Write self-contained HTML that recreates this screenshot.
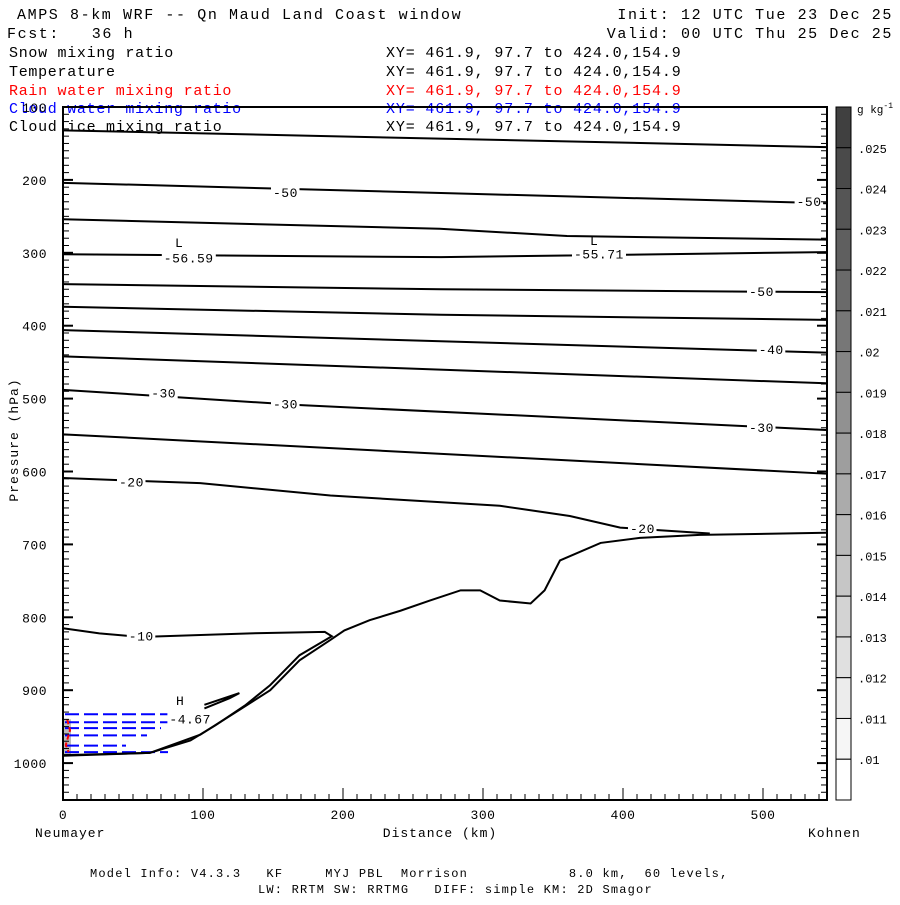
<!DOCTYPE html>
<html><head><meta charset="utf-8"><style>
body{margin:0;background:#fff;}
svg text{font-family:"Liberation Mono",monospace;white-space:pre;}
</style></head><body>
<svg id="c" width="900" height="900" viewBox="0 0 900 900" xml:space="preserve">
<rect width="900" height="900" fill="#fff"/>
<g font-size="15" letter-spacing="1.6" fill="#000">
<text x="17" y="19">AMPS 8-km WRF -- Qn Maud Land Coast window</text>
<text x="7" y="38">Fcst:   36 h</text>
<text x="893" y="19" text-anchor="end">Init: 12 UTC Tue 23 Dec 25</text>
<text x="893" y="38" text-anchor="end">Valid: 00 UTC Thu 25 Dec 25</text>
</g>
<g font-size="15" letter-spacing="0.7" fill="#000">
<text x="9" y="57">Snow mixing ratio</text>
<text x="9" y="76">Temperature</text>
<text x="9" y="95" fill="#f00">Rain water mixing ratio</text>
<text x="9" y="113" fill="#00f">Cloud water mixing ratio</text>
<text x="9" y="131">Cloud ice mixing ratio</text>
</g>
<g font-size="15" letter-spacing="0.85" fill="#000">
<text x="386" y="57">XY= 461.9, 97.7 to 424.0,154.9</text>
<text x="386" y="76">XY= 461.9, 97.7 to 424.0,154.9</text>
<text x="386" y="95" fill="#f00">XY= 461.9, 97.7 to 424.0,154.9</text>
<text x="386" y="113" fill="#00f">XY= 461.9, 97.7 to 424.0,154.9</text>
<text x="386" y="131">XY= 461.9, 97.7 to 424.0,154.9</text>
</g>
<g id="plot"></g>
<g font-size="13" letter-spacing="1" fill="#000">
<text x="440" y="837" text-anchor="middle">Distance (km)</text>
<text x="35" y="837">Neumayer</text>
<text x="808" y="837">Kohnen</text>
<text transform="translate(18,440) rotate(-90)" text-anchor="middle">Pressure (hPa)</text>
<text x="90" y="877" font-size="12" letter-spacing="1.2">Model Info: V4.3.3   KF     MYJ PBL  Morrison            8.0 km,  60 levels,</text>
<text x="258" y="893" font-size="12" letter-spacing="1.2">LW: RRTM SW: RRTMG   DIFF: simple KM: 2D Smagor</text>
</g>
</svg>
<script>
const xTicks=[0,100,200,300,400,500];
const yTicks=[100,200,300,400,500,600,700,800,900,1000];
const cbLabels=[".025",".024",".023",".022",".021",".02",".019",".018",".017",".016",".015",".014",".013",".012",".011",".01"];
const cbColors=["#404040","#4a4a4a","#555","#5f5f5f","#6a6a6a","#777","#848484","#919191","#9e9e9e","#ababab","#b9b9b9","#c6c6c6","#d3d3d3","#e0e0e0","#ececec","#f6f6f6","#fff"];
const tLinesKm=[
[0,545],
[0,270,545],
[0,269,360,545],
[0,270,545],
[0,270,545],
[0,270,545],
[0,545],
[0,545],
[0,170,545],
[0,545],
[0,98,191,312,362,398,462],
[0,62,98,126,148,169,191,201,219,241,262,284,298,312,334,344,355,384,412,455,545],
[0,26,55,134,187,192,169,148,130,109,91,62,0],
[101,126,119,101]
];
const tLinesP=[
[132,155],
[204,218,232],
[254,267,277,282],
[302,306,299],
[343,350,354],
[374,385,392],
[406,437],
[442,479],
[488,509,543],
[549,603],
[609,616,633,647,661,677,685],
[989,986,961,927,900,859,831,818,804,791,777,763,763,777,781,763,722,698,691,687,684],
[815,822,827,822,820,826,852,893,921,948,969,986,990],
[920,904,911,925]
];
const tLabels=["-50","-50","-50","-40","-30","-30","-30","-20","-20","-10","-56.59","-55.71","-4.67"];
const tLabelKm=[150,524,490,497,63,150,490,40,405,47,72,365,76];
const tLabelP=[218,230,354,433,493,508,540,615,679,826,308,302,940];
const cwLevels=[933,944,952,962,976,985];
const cwEndKm=[90,100,70,60,45,75];
const X0=63,X1=827,Y0=107,Y1=800;
const xs=k=>X0+k*1.4, ys=p=>Y0+(p-100)*0.729;
const NS="http://www.w3.org/2000/svg";
const g=document.getElementById('plot');
function mk(t,a){const e=document.createElementNS(NS,t);for(const k in a)e.setAttribute(k,a[k]);g.appendChild(e);return e;}
let sm=mk('rect',{x:X0,y:ys(940),width:8,height:ys(990)-ys(940),fill:'#bbb'});


cwLevels.forEach((p,i)=>{const l=mk('line',{x1:X0+2,x2:xs(cwEndKm[i]),y1:ys(p),y2:ys(p),stroke:'#00f','stroke-width':2,'stroke-dasharray':'14,5'});

});
const r=mk('polyline',{points:`${xs(3)},${ys(940)} ${xs(5)},${ys(955)} ${xs(2)},${ys(975)} ${xs(4)},${ys(985)}`,fill:'none',stroke:'#f00','stroke-width':2,'stroke-dasharray':'5,3'});


tLinesKm.forEach((ks,i)=>{const pts=ks.map((k,j)=>xs(k)+','+ys(tLinesP[i][j])).join(' ');
const l=mk('polyline',{points:pts,fill:'none',stroke:'#000','stroke-width':2});

});
tLabels.forEach((s,i)=>{const x=xs(tLabelKm[i]),y=ys(tLabelP[i]);
mk('rect',{x:x-2,y:y-8,width:s.length*8.5+3,height:14,fill:'#fff'});
const t=mk('text',{x:x,y:y+4,'font-size':13,'letter-spacing':0.5});t.textContent=s;

});
[["L",175,242],["L",590,240],["H",176,700]].forEach(a=>{const t=mk('text',{x:a[1],y:a[2]+5,'font-size':13});t.textContent=a[0];

});
const f=mk('rect',{x:X0,y:Y0,width:X1-X0,height:Y1-Y0,fill:'none',stroke:'#000','stroke-width':2});


for(let p=100;p<=1050;p+=10){const y=ys(p),L=p%100==0?10:6;
mk('line',{x1:X0,x2:X0+L,y1:y,y2:y,stroke:'#000','stroke-width':p%100==0?2:1});
mk('line',{x1:X1-L,x2:X1,y1:y,y2:y,stroke:'#000','stroke-width':p%100==0?2:1});}
for(let k=0;k<=545;k+=10){const x=xs(k),L=k%100==0?12:6;
mk('line',{x1:x,x2:x,y1:Y1,y2:Y1-L,stroke:'#000','stroke-width':1});}
yTicks.forEach(p=>{const t=mk('text',{x:47,y:ys(p)+5,'text-anchor':'end','font-size':13,'letter-spacing':0.5});t.textContent=p;

});
xTicks.forEach(k=>{const t=mk('text',{x:xs(k),y:819,'text-anchor':'middle','font-size':13,'letter-spacing':0.5});t.textContent=k;

});
const bh=(Y1-Y0)/cbColors.length;
cbColors.forEach((c,i)=>{const b=mk('rect',{x:836,y:Y0+i*bh,width:15,height:bh,fill:c,stroke:'#000','stroke-width':1});

});
cbLabels.forEach((s,i)=>{const t=mk('text',{x:858,y:Y0+(i+1)*bh+5,'font-size':12});t.textContent=s;

});
const u=mk('text',{x:857,y:113,'font-size':11});u.innerHTML='g kg<tspan dy="-5" font-size="8">-1</tspan>';


</script>
</body></html>
